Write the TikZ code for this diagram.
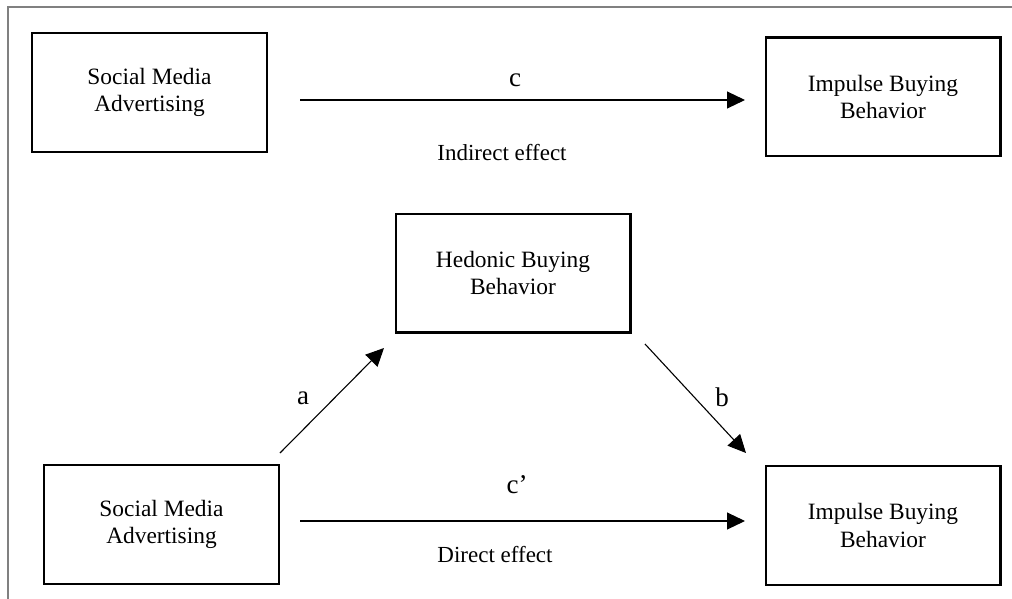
\documentclass[tikz,border=0pt]{standalone}
\usepackage{fontspec}
\setmainfont{Liberation Serif}
\usetikzlibrary{arrows.meta}

\begin{document}
\begin{tikzpicture}[x=0.5pt,y=-0.5pt,
  box/.style={draw,line width=1.2pt,minimum width=117.3pt,minimum height=59.3pt,
    align=center,font=\fontsize{11.7}{13.7}\selectfont},
  arr/.style={-{Triangle[length=9pt,width=8.5pt]},line width=0.55pt},
  lbl/.style={font=\fontsize{13.5}{16}\selectfont},
  txt/.style={font=\fontsize{11.5}{13.5}\selectfont}]
  \useasboundingbox (0,0) rectangle (1012,599);
  \draw[gray,line width=0.6pt] (8,599) -- (8,7) -- (1012,7);
  \node[box] (sma1) at (149.5,92.5) {Social Media\\Advertising};
  \node[box] (ibb1) at (883,97) {Impulse Buying\\Behavior};
  \node[box] (hbb) at (513,273) {Hedonic Buying\\Behavior};
  \node[box] (sma2) at (161.5,524.5) {Social Media\\Advertising};
  \node[box] (ibb2) at (883,525.5) {Impulse Buying\\Behavior};
  \draw[arr] ([shift={(32,7.5)}]sma1.east) -- ([shift={(-19.5,3)}]ibb1.west);
  \draw[arr] ([shift={(0,-11)}]sma2.north east) -- ([shift={(-10.5,14.5)}]hbb.south west);
  \draw[arr] ([shift={(13.5,10.5)}]hbb.south east) -- ([shift={(-18.5,-12)}]ibb2.north west);
  \draw[arr] ([shift={(20,-3.5)}]sma2.east) -- ([shift={(-19.5,-4.5)}]ibb2.west);
  \node[lbl] (c) at (515,80) {c};
  \node[txt] (ind) at (502,153) {Indirect effect};
  \node[lbl] (a) at (303,398) {a};
  \node[lbl] (b) at (722,397) {b};
  \node[lbl] (cp) at (517,485) {c’};
  \node[txt] (dir) at (495,555) {Direct effect};
\end{tikzpicture}
\end{document}
